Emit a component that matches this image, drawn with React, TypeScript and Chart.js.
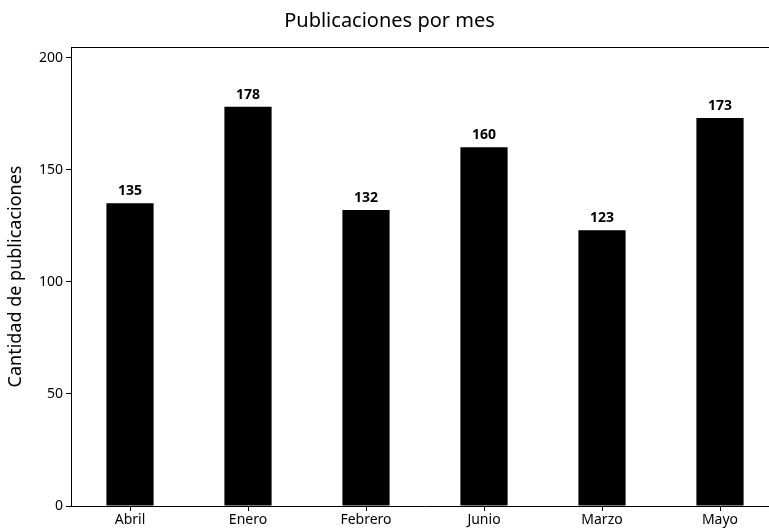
import React, { useEffect, useRef } from "react";
import { Chart, registerables } from "chart.js";

Chart.register(...registerables);

const categories = ["Abril", "Enero", "Febrero", "Junio", "Marzo", "Mayo"];
const publicaciones = [135, 178, 132, 160, 123, 173];
const yTicks = [0, 50, 100, 150, 200];
const titleText = "Publicaciones por mes";
const yAxisTitle = "Cantidad de publicaciones";

const FONT = "'Noto Sans', 'Open Sans', sans-serif";

const boxPlugin = {
  id: "boxPlugin",
  afterDraw(chart: any) {
    const { ctx, chartArea } = chart;
    ctx.save();
    ctx.strokeStyle = "#000";
    ctx.lineWidth = 1;
    ctx.beginPath();
    ctx.moveTo(chartArea.left, chartArea.top + 0.5);
    ctx.lineTo(chartArea.right, chartArea.top + 0.5);
    ctx.lineTo(chartArea.right, chartArea.bottom);
    ctx.stroke();
    ctx.restore();
  },
};

const valueLabels = {
  id: "valueLabels",
  afterDatasetsDraw(chart: any) {
    const { ctx } = chart;
    const meta = chart.getDatasetMeta(0);
    const data = chart.data.datasets[0].data as number[];
    ctx.save();
    ctx.fillStyle = "#000";
    ctx.font = `bold 14px ${FONT}`;
    ctx.textAlign = "center";
    ctx.textBaseline = "alphabetic";
    meta.data.forEach((bar: any, i: number) => {
      ctx.fillText(String(data[i]), bar.x, bar.y - 8);
    });
    ctx.restore();
  },
};

export default function App() {
  const ref = useRef<HTMLCanvasElement | null>(null);
  useEffect(() => {
    if (!ref.current) return;
    const maxV = Math.max(...publicaciones) * 1.15;
    const chart = new Chart(ref.current, {
      type: "bar",
      data: {
        labels: categories,
        datasets: [
          {
            data: publicaciones,
            backgroundColor: "#000",
            borderWidth: 0,
            barPercentage: 0.4,
            categoryPercentage: 1,
          },
        ],
      },
      options: {
        animation: false,
        responsive: false,
        devicePixelRatio: 1,
        layout: { padding: { left: 0, right: 11, top: 0, bottom: 0 } },
        plugins: {
          legend: { display: false },
          tooltip: { enabled: false },
          title: {
            display: true,
            text: titleText,
            color: "#000",
            font: { family: FONT, size: 20, weight: "normal" },
            padding: { top: 9, bottom: 14 },
          },
        },
        scales: {
          x: {
            offset: true,
            grid: {
              display: true,
              offset: false,
              drawOnChartArea: false,
              drawTicks: true,
              tickLength: 5,
              color: "#000",
            },
            border: { display: true, color: "#000", width: 1 },
            ticks: {
              color: "#000",
              font: { family: FONT, size: 14 },
              padding: 1,
              maxRotation: 0,
            },
            afterFit(scale: any) {
              scale.height = 23;
            },
          },
          y: {
            min: 0,
            max: maxV,
            grid: {
              display: true,
              drawOnChartArea: false,
              drawTicks: true,
              tickLength: 5,
              color: "#000",
            },
            border: { display: true, color: "#000", width: 1 },
            ticks: {
              color: "#000",
              font: { family: FONT, size: 14 },
              padding: 3,
            },
            afterBuildTicks(scale: any) {
              scale.ticks = yTicks.map((v) => ({ value: v }));
            },
            title: {
              display: true,
              text: yAxisTitle,
              color: "#000",
              font: { family: FONT, size: 18 },
              padding: { top: 5, bottom: 4 },
            },
            afterFit(scale: any) {
              scale.width = 71;
            },
          },
        },
      },
      plugins: [boxPlugin, valueLabels],
    });
    return () => chart.destroy();
  }, []);
  return (
    <div
      style={{
        position: "fixed",
        left: 0,
        top: 0,
        width: 769,
        height: 529,
        overflow: "hidden",
        background: "#fff",
      }}
    >
      <canvas ref={ref} width={790} height={529} style={{ display: "block" }} />
    </div>
  );
}
